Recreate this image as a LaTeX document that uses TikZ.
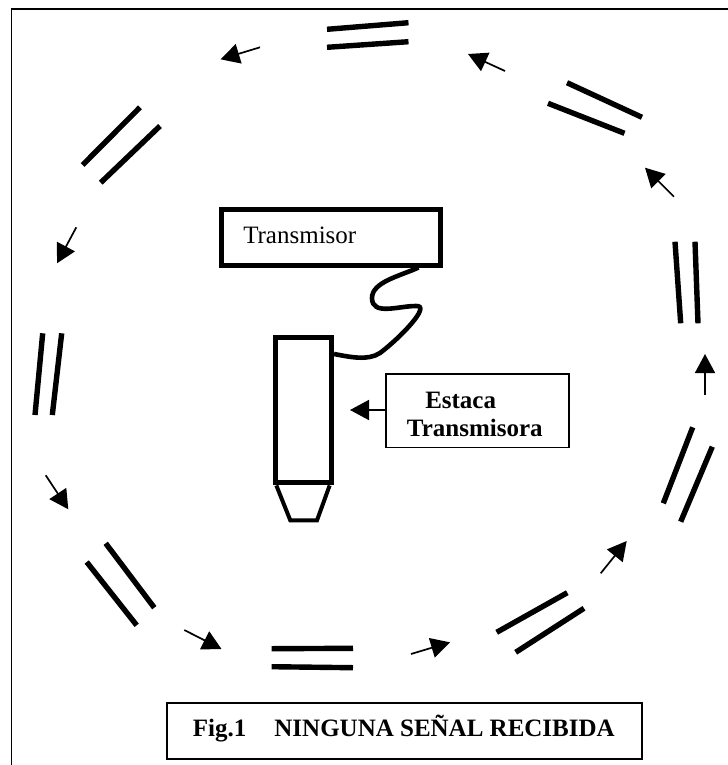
\documentclass[tikz,border=0pt]{standalone}
\usepackage{fontspec}
\setmainfont{Liberation Serif}
\usetikzlibrary{arrows.meta}
\def\px{0.75pt}
\begin{document}
\begin{tikzpicture}[x=0.75pt,y=-0.75pt,line join=miter]
		\useasboundingbox (0,0) rectangle (728,765);
		\tikzstyle bar_style=[line width=5.4*\px];
		\tikzstyle ring_arrow=[line width=1.7*\px,-{Triangle[length=19*\px,width=20*\px]}];
		\tikzstyle thick_box=[draw,line width=5*\px,inner sep=0pt];
		\tikzstyle thin_box=[draw,line width=1.8*\px,inner sep=0pt];
		\tikzstyle label_text=[inner sep=0pt,font=\fontsize{18.75}{22}\selectfont];

		% FRAME
		\draw[line width=1.8*\px] (11.5,765)--(11.5,9);
		\draw[line width=2.6*\px] (10.6,9)--(728,9);

		% PAIRS OF BARS ROUND THE RING
		\foreach \xa/\ya/\xb/\yb in {327/29.3/408.5/22.7, 327/47.3/408.5/41.7,
				567/82.7/642/117.3, 548/103.3/624.5/133.3,
				140/107.3/82.6/165, 160/126/100.7/182.7,
				675/241.7/680.7/323.3, 695/241.7/698/323.3,
				42.7/333.3/35/415, 61.7/333.3/52.3/415,
				692.7/427.3/663.3/503.3, 712.3/446.7/680.7/521.7,
				105.7/543.3/154.3/607.7, 86.7/562/136.7/625.3,
				567.3/592.7/496.7/632.3, 584/608.3/515.7/652.3,
				271.6/648.7/353/648.3, 271.6/666.7/353/667.7}
			\draw[style=bar_style] (\xa,\ya)--(\xb,\yb);

		% ARROWS ROUND THE RING
		\foreach \xa/\ya/\xb/\yb in {505/71/468/54, 260/47.3/220.5/59.3,
				76.3/227.3/57/263.3, 45.7/475.3/68.3/509.3,
				184.3/630/221.5/649, 411/654/450/642.3,
				600.7/573.3/626.7/541, 705/395/705/354, 674/196.7/645/167.7}
			\draw[style=ring_arrow] (\xa,\ya)--(\xb,\yb);

		% TRANSMITTER
		\node[thick_box,minimum width=218.5*\px,minimum height=56*\px] (transmisor) at (330.8,237) {};
		\node[label_text,anchor=base west] (transmisor_text) at (243,243.3) {Transmisor};

		% STAKE
		\node[thick_box,minimum width=55.7*\px,minimum height=145.5*\px] (estaca) at (303.7,410.2) {};
		\draw[line width=4*\px] (estaca.south west) ++(3,0) -- ++(14,35) -- ++(26.6,0) -- ++(12.7,-35);

		% CABLE
		\draw[line width=4.6*\px] (transmisor.south east) ++(-24,0)
			.. controls (400,276) and (372,282) .. (372,298)
			.. controls (372,316) and (398,306) .. (416,306)
			.. controls (432,305) and (400,338) .. (380,353)
			.. controls (368,361) and (350,357) .. (estaca.east |- 0,354);

		% BOX WITH ITS ARROW
		\node[thin_box,minimum width=183*\px,minimum height=73.5*\px] (estaca_box) at (477.3,410.7) {};
		\node[label_text,anchor=base west,font=\fontsize{18.75}{22}\selectfont\bfseries] (estaca_text) at (425,408) {Estaca};
		\node[label_text,anchor=base west,font=\fontsize{18.75}{22}\selectfont\bfseries] (transmisora_text) at (406.7,436.7) {Transmisora};
		\coordinate (estaca_tip) at (350,410);
		\draw[line width=1.7*\px,-{Triangle[length=19*\px,width=20*\px]}] (estaca_box.west |- estaca_tip)--(estaca_tip);

		% CAPTION
		\node[thin_box,minimum width=475*\px,minimum height=55.7*\px] (fig_box) at (404.3,731.2) {};
		\node[label_text,anchor=base west,font=\fontsize{18.75}{22}\selectfont\bfseries] (fig_text) at (192.7,736.7) {Fig.1\hspace{21pt}NINGUNA SEÑAL RECIBIDA};
\end{tikzpicture}
\end{document}
